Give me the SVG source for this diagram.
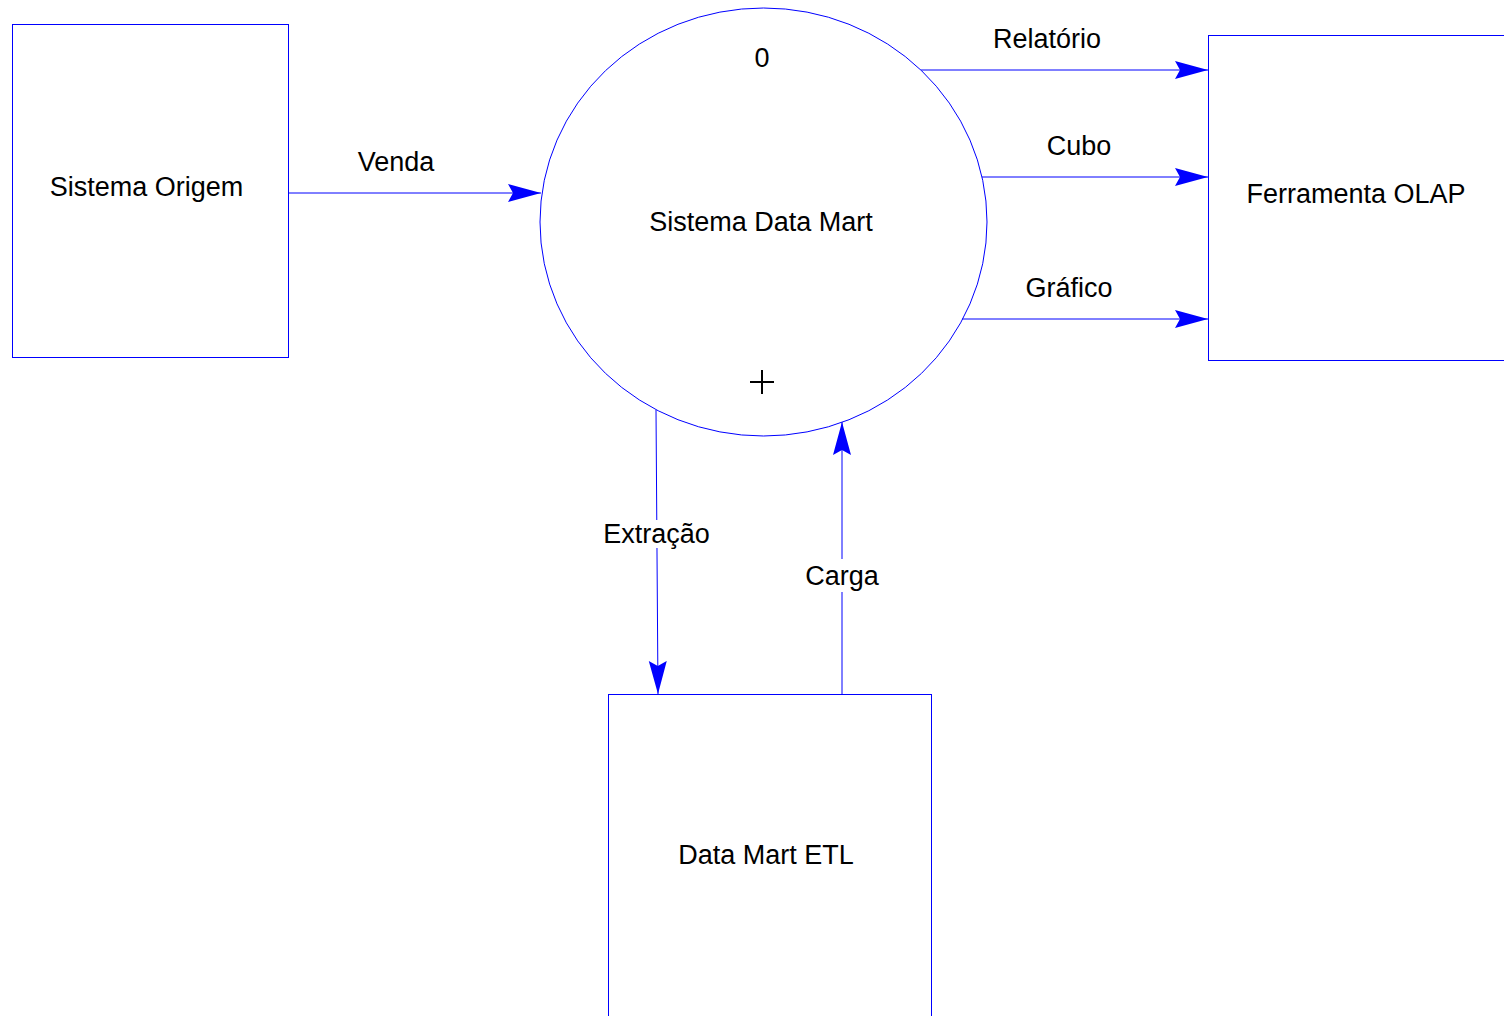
<svg xmlns="http://www.w3.org/2000/svg" width="1504" height="1016" viewBox="0 0 1504 1016">
<style>
.box{fill:#fff;stroke:#0000ff;stroke-width:1}
.ln{fill:none;stroke:#0000ff;stroke-width:1}
.t{font-family:"Liberation Sans",Arial,sans-serif;font-size:27px;fill:#000;text-anchor:middle}
.bg{fill:#fff}
</style>
<defs>
<marker id="ah" markerUnits="userSpaceOnUse" markerWidth="34" markerHeight="20" refX="33" refY="10" orient="auto" viewBox="0 0 34 20">
<path d="M33,10 L0,1 L5,10 L0,19 Z" fill="#0000ff"/>
</marker>
</defs>
<rect width="1504" height="1016" fill="#fff"/>
<g id="connectors">
<line class="ln" x1="288" y1="193" x2="541" y2="193" marker-end="url(#ah)"/>
<line class="ln" x1="921" y1="70" x2="1208" y2="70" marker-end="url(#ah)"/>
<line class="ln" x1="982" y1="177" x2="1208" y2="177" marker-end="url(#ah)"/>
<line class="ln" x1="962" y1="319" x2="1208" y2="319" marker-end="url(#ah)"/>
<line class="ln" x1="656" y1="410" x2="658" y2="694" marker-end="url(#ah)"/>
<line class="ln" x1="842" y1="694" x2="842" y2="422" marker-end="url(#ah)"/>
<text class="t" x="396" y="171">Venda</text>
<text class="t" x="1047" y="48">Relatório</text>
<text class="t" x="1079" y="155">Cubo</text>
<text class="t" x="1069" y="297">Gráfico</text>
<rect class="bg" x="600" y="520" width="112" height="28"/>
<text class="t" x="656.5" y="543">Extração</text>
<rect class="bg" x="802" y="559" width="80" height="33"/>
<text class="t" x="842" y="585">Carga</text>
</g>
<g id="sistema-origem">
<rect class="box" x="12.5" y="24.5" width="276" height="333"/>
<text class="t" x="146.5" y="196">Sistema Origem</text>
</g>
<g id="sistema-data-mart">
<ellipse class="ln" cx="763.5" cy="222" rx="223.5" ry="214"/>
<text class="t" x="762" y="67">0</text>
<text class="t" x="761" y="231">Sistema Data Mart</text>
<path d="M750,382 H774 M762,370 V394" stroke="#000" stroke-width="2" fill="none"/>
</g>
<g id="ferramenta-olap">
<rect class="box" x="1208.5" y="35.5" width="300" height="325"/>
<text class="t" x="1356" y="203">Ferramenta OLAP</text>
</g>
<g id="data-mart-etl">
<rect class="box" x="608.5" y="694.5" width="323" height="340"/>
<text class="t" x="766" y="864">Data Mart ETL</text>
</g>
</svg>
